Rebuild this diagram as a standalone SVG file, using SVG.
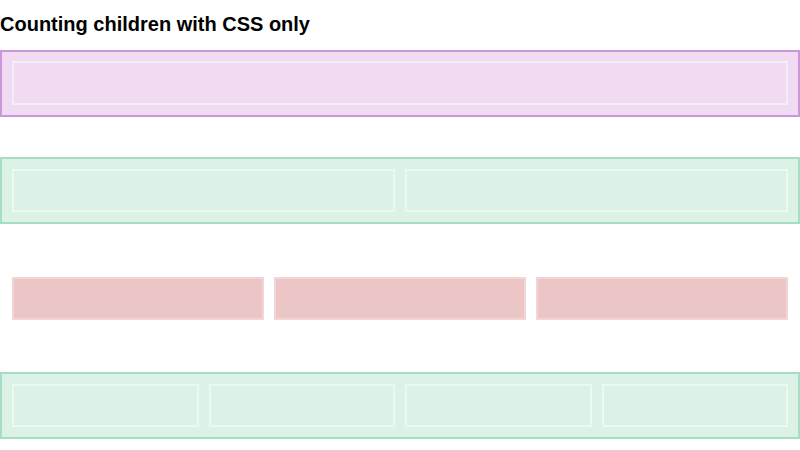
<svg xmlns="http://www.w3.org/2000/svg" width="800" height="450" viewBox="0 0 800 450">
<style>
.title{font-family:"Liberation Sans",Arial,sans-serif;font-weight:bold;font-size:20px;fill:#000}
.purple{fill:#f0dbf2;stroke:#cc96dc;stroke-width:2}
.green{fill:#ddf2e7;stroke:#a5dec2;stroke-width:2}
.child{fill:none;stroke:#ffffff;stroke-opacity:0.45;stroke-width:2}
.pink{fill:#ecc6c6;stroke:#f3d5d5;stroke-width:2}
</style>
<rect width="800" height="450" fill="#ffffff"/>
<text class="title" x="0" y="31">Counting children with CSS only</text>
<g id="row1">
<rect class="purple" x="1" y="51" width="798" height="65"/>
<rect class="child" x="13" y="62" width="774" height="42"/>
</g>
<g id="row2">
<rect class="green" x="1" y="158" width="798" height="65"/>
<rect class="child" x="13" y="170" width="381" height="41"/>
<rect class="child" x="406" y="170" width="381" height="41"/>
</g>
<g id="row3">
<rect class="pink" x="13" y="278" width="250" height="41"/>
<rect class="pink" x="275" y="278" width="250" height="41"/>
<rect class="pink" x="537" y="278" width="250" height="41"/>
</g>
<g id="row4">
<rect class="green" x="1" y="373" width="798" height="65"/>
<rect class="child" x="13" y="385" width="185" height="41"/>
<rect class="child" x="210" y="385" width="184" height="41"/>
<rect class="child" x="406" y="385" width="185" height="41"/>
<rect class="child" x="603" y="385" width="184" height="41"/>
</g>
<g id="connectors"></g>
</svg>
